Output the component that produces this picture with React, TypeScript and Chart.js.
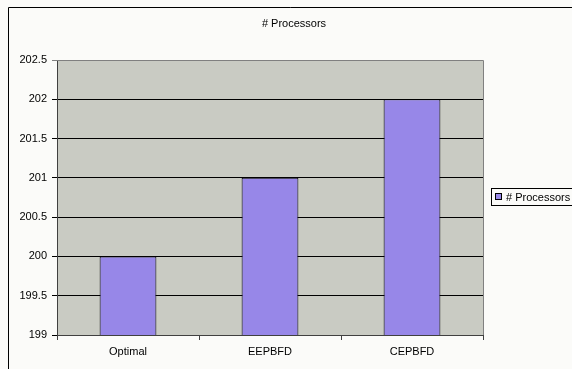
import React, { useEffect, useRef } from "react";
import { Chart, registerables } from "chart.js";

Chart.register(...registerables);

const categories: string[] = ["Optimal", "EEPBFD", "CEPBFD"];
const processors: number[] = [200, 201, 202];
const seriesName = "# Processors";
const chartTitle = "# Processors";
const yMin = 199;
const yMax = 202.5;
const yStep = 0.5;

const FONT = "'Liberation Sans', Arial, sans-serif";
const PAGE_BG = "#FBFBF9";
const PLOT_BG = "#C9CBC3";
const BAR_FILL = "#9787E8";

// Frame, plot background, title and legend drawn around the Chart.js plot
const decorations = {
  id: "decorations",
  beforeDraw(chart: any) {
    const { ctx, chartArea: a, width, height } = chart;
    ctx.save();
    ctx.fillStyle = PAGE_BG;
    ctx.fillRect(0, 0, width, height);
    // outer frame (left and top edges visible)
    ctx.strokeStyle = "#000";
    ctx.lineWidth = 1;
    ctx.beginPath();
    ctx.moveTo(8.5, height);
    ctx.lineTo(8.5, 7.5);
    ctx.lineTo(width, 7.5);
    ctx.stroke();
    // plot area
    ctx.fillStyle = PLOT_BG;
    ctx.fillRect(a.left, a.top, a.right - a.left, a.bottom - a.top);
    ctx.restore();
  },
  afterDraw(chart: any) {
    const { ctx, chartArea: a } = chart;
    ctx.save();
    // plot border on top and right
    ctx.strokeStyle = "#808080";
    ctx.lineWidth = 1;
    ctx.beginPath();
    ctx.moveTo(a.left, Math.round(a.top) + 0.5);
    ctx.lineTo(Math.round(a.right) + 0.5, Math.round(a.top) + 0.5);
    ctx.lineTo(Math.round(a.right) + 0.5, a.bottom);
    ctx.stroke();

    // title
    ctx.fillStyle = "#000";
    ctx.font = `11px ${FONT}`;
    ctx.textAlign = "center";
    ctx.textBaseline = "middle";
    ctx.fillText(chartTitle, 294, 24);

    // legend
    ctx.strokeStyle = "#000";
    ctx.strokeRect(491.5, 188.5, 100, 17);
    ctx.fillStyle = BAR_FILL;
    ctx.fillRect(495, 193, 7, 7);
    ctx.strokeStyle = "#000";
    ctx.strokeRect(495.5, 193.5, 6, 6);
    ctx.fillStyle = "#000";
    ctx.textAlign = "left";
    ctx.fillText(seriesName, 506, 197.5);
    ctx.restore();
  },
};

export default function App() {
  const canvasRef = useRef<HTMLCanvasElement>(null);

  useEffect(() => {
    const canvas = canvasRef.current;
    if (!canvas) return;
    const chart = new Chart(canvas, {
      type: "bar",
      data: {
        labels: categories,
        datasets: [
          {
            label: seriesName,
            data: processors,
            backgroundColor: BAR_FILL,
            borderColor: "#000",
            borderWidth: 1,
            categoryPercentage: 1,
            barPercentage: 0.4,
          },
        ],
      },
      options: {
        animation: false,
        responsive: false,
        maintainAspectRatio: false,
        devicePixelRatio: 1,
        layout: { padding: { left: 0, top: 60, right: 89, bottom: 0 } },
        plugins: {
          legend: { display: false },
          title: { display: false },
          tooltip: { enabled: false },
        },
        scales: {
          x: {
            offset: true,
            grid: {
              offset: true,
              drawOnChartArea: false,
              drawTicks: true,
              tickLength: 5,
              color: "#404040",
            },
            border: { color: "#404040", width: 1 },
            ticks: {
              color: "#000",
              font: { family: FONT, size: 11 },
              padding: 5,
              maxRotation: 0,
            },
            afterFit(scale: any) {
              scale.height = 34;
            },
          },
          y: {
            min: yMin,
            max: yMax,
            grid: {
              color: (c: any) => (c.tick && c.tick.value === yMax ? "#808080" : "#000"),
              tickLength: 5,
              drawTicks: true,
            },
            border: { color: "#404040", width: 1 },
            ticks: {
              stepSize: yStep,
              color: "#000",
              font: { family: FONT, size: 11 },
              padding: 5,
              callback: (v: any) => String(Number(v)),
            },
            afterFit(scale: any) {
              scale.width = 57;
            },
          },
        },
      },
      plugins: [decorations],
    });
    return () => chart.destroy();
  }, []);

  return (
    <div style={{ position: "fixed", left: 0, top: 0, width: 572, height: 369 }}>
      <canvas ref={canvasRef} width={572} height={369} style={{ display: "block" }} />
    </div>
  );
}
